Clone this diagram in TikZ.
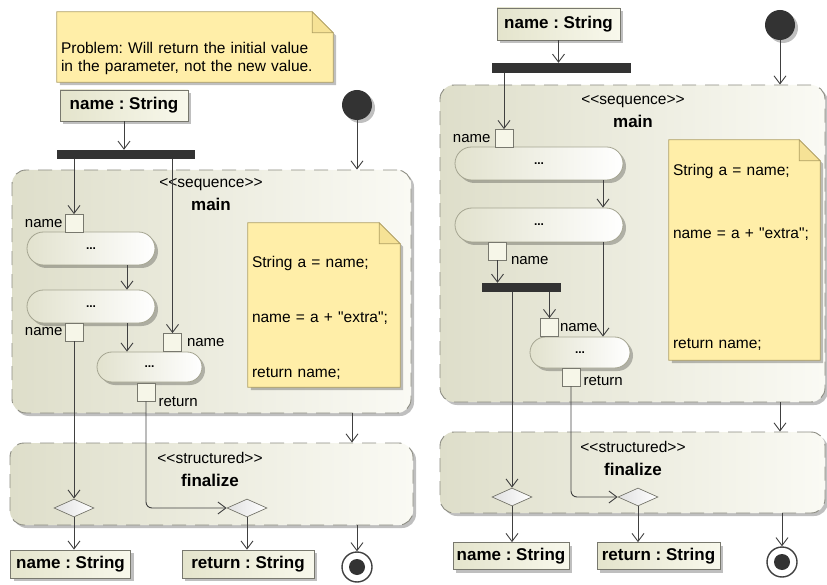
\documentclass[tikz,border=0pt]{standalone}
\usepackage{fontspec}
\setmainfont{Liberation Sans}
\newfontfamily\uifont{Liberation Sans}
\usepackage{tikz}
\usetikzlibrary{
  positioning,
  arrows.meta,
  shapes.misc,
  shapes.geometric,
  shadows,
  backgrounds,
  calc
}
\frenchspacing
\definecolor{LineGray}{RGB}{64,64,64}
\definecolor{BarGray}{RGB}{51,51,51}
\definecolor{RegionDark}{RGB}{222,222,202}
\definecolor{RegionLight}{RGB}{250,250,244}
\definecolor{RegionEdge}{RGB}{140,140,130}
\definecolor{ActDark}{RGB}{226,226,206}
\definecolor{ActEdge}{RGB}{165,165,145}
\definecolor{ObjDark}{RGB}{228,228,204}
\definecolor{ObjLight}{RGB}{248,248,236}
\definecolor{ObjEdge}{RGB}{120,120,110}
\definecolor{PinFill}{RGB}{246,246,232}
\definecolor{NoteYellow}{RGB}{255,238,168}
\definecolor{NoteEdge}{RGB}{176,160,100}
\definecolor{NoteFold}{RGB}{246,226,150}
\newcommand{\notefont}{\uifont\fontsize{15.5}{18}\selectfont}
\newcommand{\pinfont}{\uifont\fontsize{15}{17}\selectfont}
\newcommand{\objfont}{\uifont\fontsize{17}{20}\selectfont\bfseries}
\newcommand{\stereotype}[1]{<\kern0pt<#1>\kern0pt>}

\begin{document}
\begin{tikzpicture}[x=1pt,y=-1pt,
  dshadow/.style={drop shadow={shadow xshift=3pt,shadow yshift=-3pt,
    fill=black,opacity=0.25}},
  regionbox/.style={rounded corners=14pt,draw=RegionEdge,line width=0.9pt,
    dash pattern=on 14pt off 9pt,left color=RegionDark,right color=RegionLight,
    inner sep=0pt,dshadow},
  title/.style={align=center,font=\notefont,inner sep=0pt},
  actbox/.style={rounded rectangle,draw=ActEdge,line width=0.8pt,
    left color=ActDark,right color=white,inner sep=0pt,
    font=\uifont\fontsize{12}{12}\selectfont\bfseries,dshadow},
  objbox/.style={rectangle,draw=ObjEdge,line width=0.8pt,
    left color=ObjDark,right color=ObjLight,inner sep=0pt,font=\objfont,dshadow},
  pinbox/.style={rectangle,draw=ObjEdge,fill=PinFill,line width=0.7pt,
    minimum size=18pt,inner sep=0pt},
  plabel/.style={font=\pinfont,inner sep=1pt},
  forkbar/.style={rectangle,fill=BarGray,inner sep=0pt,minimum height=9pt},
  initnode/.style={circle,fill=BarGray,minimum size=30pt,inner sep=0pt,dshadow},
  finalnode/.style={circle,draw=LineGray,line width=1.4pt,fill=white,
    minimum size=30pt,inner sep=0pt,
    path picture={\fill[BarGray] (path picture bounding box.center) circle (8pt);}},
  mergenode/.style={diamond,draw=ObjEdge,line width=0.7pt,
    left color=black!12,right color=white,minimum width=40pt,minimum height=18pt,
    inner sep=0pt},
  notebox/.style={rectangle,align=left,font=\notefont,inner xsep=4pt,inner ysep=0pt},
  notepaper/.style={fill=NoteYellow,draw=NoteEdge,line width=0.8pt,dshadow},
  notefold/.style={fill=NoteFold,draw=NoteEdge,line width=0.8pt},
  arr/.style={-{Straight Barb[length=8pt,width=12pt]},LineGray,line width=0.9pt},
]
\useasboundingbox (0,0) rectangle (827,585);

% —— 区域（底层）——
\begin{scope}[on background layer]
\node[regionbox,minimum width=399pt,minimum height=243pt] (MainL) at (211.5,291.5) {};
\node[regionbox,minimum width=403pt,minimum height=82pt] (FinL) at (211.5,484) {};
\node[regionbox,minimum width=385pt,minimum height=317pt] (MainR) at (632.5,243.5) {};
\node[regionbox,minimum width=385pt,minimum height=81pt] (FinR) at (632.5,472.5) {};
\end{scope}
\node[title] (MainLT) at (211,194.5) {\stereotype{sequence}\\[5pt]{\objfont main}};
\node[title] (FinLT) at (210,469.5) {\stereotype{structured}\\[5pt]{\objfont finalize}};
\node[title] (MainRT) at (633,111.5) {\stereotype{sequence}\\[5pt]{\objfont main}};
\node[title] (FinRT) at (633,458.5) {\stereotype{structured}\\[5pt]{\objfont finalize}};

% —— 左图 ——
\node[notebox,text width=268pt,minimum height=70pt] (NoteL1) at (195,47)
  {\rule{0pt}{35pt}Problem: Will return the initial value\\in the parameter, not the new value.};
\node[objbox,minimum width=128pt,minimum height=31pt] (InL) at (124,105.5) {name : String};
\node[forkbar,minimum width=138pt] (ForkL) at (126,154.5) {};
\node[initnode] (InitL) at (357,105) {};
\node[notebox,text width=144pt,minimum height=164pt] (NoteL2) at (324,305)
  {\rule{0pt}{36pt}String a = name;\\[37pt]name = a + "extra";\\[37pt]return name;};
\node[actbox,minimum width=128pt,minimum height=33pt] (A1) at (91,248.5) {...};
\node[actbox,minimum width=128pt,minimum height=33pt] (A2) at (91,306.5) {...};
\node[actbox,minimum width=105pt,minimum height=30pt] (A3) at (149.5,367) {...};
\node[pinbox] (P1) at (74,223.5) {};
\node[pinbox] (P2) at (74,332) {};
\node[pinbox] (P3) at (172.5,342.5) {};
\node[pinbox] (P4) at (146,392) {};
\node[plabel,left=1pt of P1] (P1L) {name};
\node[plabel,left=1pt of P2] (P2L) {name};
\node[plabel,right=4pt of P3] (P3L) {name};
\node[plabel,right=2pt of P4.south east] (P4L) {return};
\node[mergenode] (D1) at (74,508) {};
\node[mergenode] (D2) at (247,508) {};
\node[objbox,minimum width=120pt,minimum height=28pt] (Out1) at (70.5,564) {name : String};
\node[objbox,minimum width=132pt,minimum height=28pt] (Out2) at (248,564) {return : String};
\node[finalnode] (FinalL) at (357,567) {};

% —— 右图 ——
\node[objbox,minimum width=123pt,minimum height=32pt] (InR) at (558.5,24) {name : String};
\node[forkbar,minimum width=139pt,minimum height=10pt] (BarR1) at (561.5,68) {};
\node[initnode] (InitR) at (780,25) {};
\node[notebox,text width=143pt,minimum height=220pt] (NoteR) at (744.5,250)
  {\rule{0pt}{25pt}String a = name;\\[45pt]name = a + "extra";\\[92pt]return name;};
\node[actbox,minimum width=168pt,minimum height=33pt] (B1) at (539,163.5) {...};
\node[actbox,minimum width=168pt,minimum height=34pt] (B2) at (539,225) {...};
\node[actbox,minimum width=100pt,minimum height=31pt] (B3) at (580,352.5) {...};
\node[pinbox] (Q1) at (504,138.5) {};
\node[pinbox] (Q2) at (497.5,251) {};
\node[pinbox] (Q3) at (549.5,327.5) {};
\node[pinbox] (Q4) at (571,377) {};
\node[forkbar,minimum width=79pt] (BarR2) at (521.5,287.5) {};
\node[plabel,left=3pt of Q1] (Q1L) {name};
\node[plabel,right=3pt of Q2.south east] (Q2L) {name};
\node[plabel,right=0pt of Q3] (Q3L) {name};
\node[plabel,right=2pt of Q4,yshift=-4pt] (Q4L) {return};
\node[mergenode] (E1) at (512,497) {};
\node[mergenode] (E2) at (638,497) {};
\node[objbox,minimum width=116pt,minimum height=27pt] (OutR1) at (511,556) {name : String};
\node[objbox,minimum width=123pt,minimum height=27pt] (OutR2) at (658.5,556) {return : String};
\node[finalnode] (FinalR) at (782,562) {};

% —— 便签纸面与折角 ——
\begin{scope}[on background layer]
\foreach \n in {NoteL1,NoteL2,NoteR}
  \draw[notepaper] (\n.north west) -- ($(\n.north east)+(-21,0)$) -- ($(\n.north east)+(0,21)$)
    -- (\n.south east) -- (\n.south west) -- cycle;
\end{scope}
\foreach \n in {NoteL1,NoteL2,NoteR}
  \draw[notefold] ($(\n.north east)+(-21,0)$) -- ($(\n.north east)+(-21,21)$)
    -- ($(\n.north east)+(0,21)$) -- cycle;

% —— 连线 ——
\foreach \s/\t in {InL/ForkL,InitL/MainL,P2/D1,D1/Out1,D2/Out2,
                   InR/BarR1,InitR/MainR,Q2/BarR2,E1/OutR1,E2/OutR2}
  \draw[arr] (\s.south) -- (\s.south |- \t.north);
\foreach \s/\t in {ForkL/P1,ForkL/P3,FinL/FinalL,BarR1/Q1,BarR2/Q3,BarR2/E1,FinR/FinalR}
  \draw[arr] (\s.south -| \t.north) -- (\t.north);
\foreach \s/\t/\dx in {A1/A2/36,A2/A3/36,MainL/FinL/140.5,B1/B2/64,B2/B3/64,MainR/FinR/147.5}
  \draw[arr] ([xshift=\dx pt]\s.south) -- ([xshift=\dx pt]\s.south |- \t.north);
\draw[arr,rounded corners=6pt] (P4.south) |- (D2.west);
\draw[arr,rounded corners=6pt] (Q4.south) |- (E2.west);
\end{tikzpicture}
\end{document}
